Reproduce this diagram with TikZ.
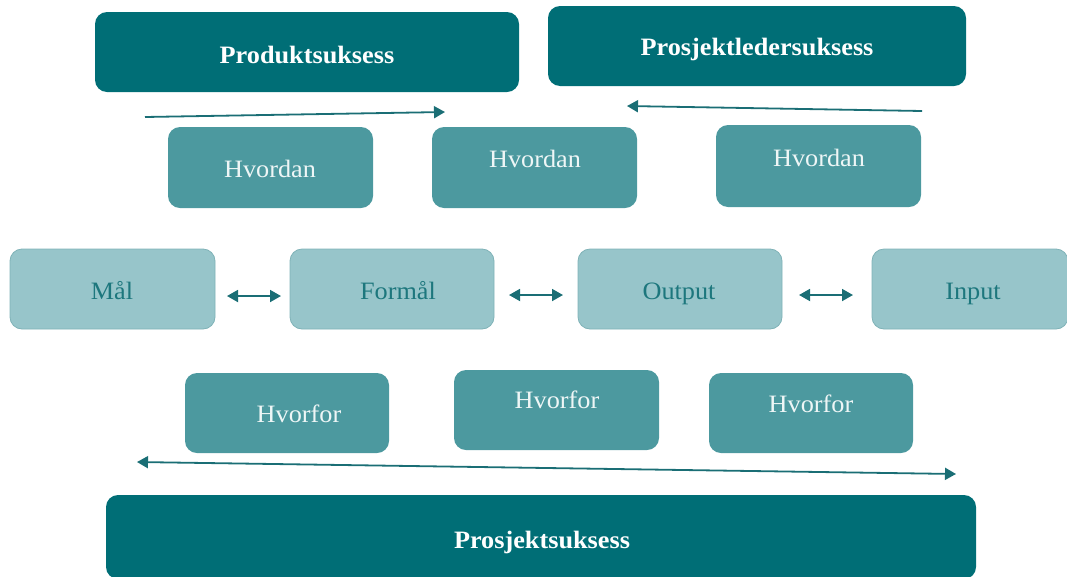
\documentclass[tikz,border=0pt]{standalone}
\usepackage{fontspec}
\setmainfont[FakeStretch=1.05]{Liberation Serif}
\usetikzlibrary{arrows.meta}
\definecolor{tealdark}{HTML}{006E76}
\definecolor{tealmid}{HTML}{4C999F}
\definecolor{teallight}{HTML}{97C5CA}
\definecolor{tealedge}{HTML}{7FB2B7}
\definecolor{tealtext}{HTML}{1D777D}
\definecolor{tealpale}{HTML}{EEF6F6}
\definecolor{arrowteal}{HTML}{1A6E75}

\tikzset{
  boxbase/.style={rectangle, rounded corners=12pt, inner sep=0pt},
  darkbox/.style={boxbase, fill=tealdark},
  midbox/.style={boxbase, fill=tealmid},
  lightbox/.style={boxbase, fill=teallight, draw=tealedge, line width=0.8pt},
  lbl/.style={anchor=base, inner sep=0pt, font=\fontsize{25}{28}\selectfont},
  titlelbl/.style={lbl, text=white, font=\fontsize{25}{28}\selectfont\bfseries},
  palelbl/.style={lbl, text=tealpale},
  deeplbl/.style={lbl, text=tealtext},
  tip/.tip={Triangle[length=11pt,width=12pt]},
  flow/.style={draw=arrowteal, line width=1.8pt, -tip},
  flowboth/.style={draw=arrowteal, line width=1.8pt, tip-tip},
}

\begin{document}
\begin{tikzpicture}[x=1pt,y=-1pt]
\useasboundingbox (0,0) rectangle (1067,576);

% success boxes
\node[darkbox, minimum width=424pt, minimum height=80pt] (prod) at (307,52) {};
\node[titlelbl] at (307,63) {Produktsuksess};
\node[darkbox, minimum width=418pt, minimum height=80pt] (lead) at (757,46) {};
\node[titlelbl] at (757,55) {Prosjektledersuksess};
\node[darkbox, minimum width=870pt, minimum height=84pt] (proj) at (541,537) {};
\node[titlelbl] at (542,548) {Prosjektsuksess};

% "how" row
\node[midbox, minimum width=205pt, minimum height=81pt] (hvd1) at (270.5,167.5) {};
\node[palelbl] at (270,177) {Hvordan};
\node[midbox, minimum width=205pt, minimum height=81pt] (hvd2) at (534.5,167.5) {};
\node[palelbl] at (535,167) {Hvordan};
\node[midbox, minimum width=205pt, minimum height=82pt] (hvd3) at (818.5,166) {};
\node[palelbl] at (819,166) {Hvordan};

% central chain
\node[lightbox, minimum width=205pt, minimum height=80pt] (mal) at (112.5,289) {};
\node[deeplbl] at (112,299) {Mål};
\node[lightbox, minimum width=204pt, minimum height=80pt] (formal) at (392,289) {};
\node[deeplbl] at (398,299) {Formål};
\node[lightbox, minimum width=204pt, minimum height=80pt] (output) at (680,289) {};
\node[deeplbl] at (679,299) {Output};
\node[lightbox, minimum width=196pt, minimum height=80pt] (input) at (970,289) {};
\node[deeplbl] at (973,299) {Input};

% "why" row
\node[midbox, minimum width=204pt, minimum height=80pt] (hvf1) at (287,413) {};
\node[palelbl] at (299,422) {Hvorfor};
\node[midbox, minimum width=205pt, minimum height=80pt] (hvf2) at (556.5,410) {};
\node[palelbl] at (557,408) {Hvorfor};
\node[midbox, minimum width=204pt, minimum height=80pt] (hvf3) at (811,413) {};
\node[palelbl] at (811,412) {Hvorfor};

% arrow end points
\coordinate (a1s) at (145,117);
\coordinate (a1e) at (445,112);
\coordinate (a2s) at (922,111);
\coordinate (a2e) at (627,106);
\coordinate (d1a) at (227,296);
\coordinate (d1b) at (281,296);
\coordinate (d2a) at (509,295);
\coordinate (d2b) at (563,295);
\coordinate (d3a) at (799,295);
\coordinate (d3b) at (853,295);
\coordinate (lla) at (137,462);
\coordinate (llb) at (956,474);

\draw[flow] (a1s) -- (a1e);
\draw[flow] (a2s) -- (a2e);
\draw[flowboth] (d1a) -- (d1b);
\draw[flowboth] (d2a) -- (d2b);
\draw[flowboth] (d3a) -- (d3b);
\draw[flowboth] (lla) -- (llb);
\end{tikzpicture}
\end{document}
